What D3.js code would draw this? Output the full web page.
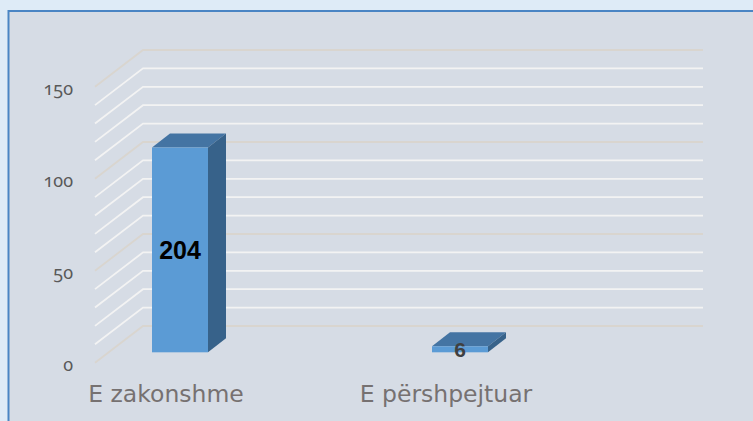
<!DOCTYPE html>
<html><head><meta charset="utf-8">
<script src="https://cdn.jsdelivr.net/npm/d3@7"></script>
<style>html,body{margin:0;padding:0;background:#deebf7;}</style>
</head><body>
<svg id="c" width="753" height="421"></svg>
<script>
const categories = ["E zakonshme", "E përshpejtuar"];
const values = [204, 6];
const tickLabels = [0, 50, 100, 150];

const svg = d3.select("#c");
svg.append("rect").attr("x",0).attr("y",0).attr("width",753).attr("height",421).attr("fill","#deebf7");
svg.append("rect").attr("x",8.5).attr("y",11).attr("width",760).attr("height",420)
  .attr("fill","#d6dce5").attr("stroke","#4a85c4").attr("stroke-width",2);

// geometry
const backLeft = 143, backRight = 703, backBase = 326;
const depth = [48, -36.7];
const y = d3.scaleLinear().domain([0,150]).range([0,276]);
const barY = d3.scaleLinear().domain([0,275]).range([0,276]);
const x = d3.scaleBand().domain(categories).range([40,600]).padding(0);
const barBase = 352.3, barW = x.bandwidth()*0.2, bd = [18,-14];

// gridlines
const grid = y.ticks(15);
svg.append("g").selectAll("path").data(grid).join("path")
  .attr("d", v => { const yb = backBase - y(v); return `M${backLeft-depth[0]},${yb-depth[1]}L${backLeft},${yb}L${backRight},${yb}`; })
  .attr("fill","none")
  .attr("stroke", v => v % 50 === 0 ? "#d9d5cf" : "#f3f3f3")
  .attr("stroke-width",1.8);

// tick labels
svg.append("g").selectAll("text").data(tickLabels).join("text")
  .attr("x",73).attr("y", v => backBase - depth[1] - y(v) + 8)
  .attr("text-anchor","end")
  .style("font-family","'Noto Sans', 'Open Sans', sans-serif")
  .style("font-feature-settings","'onum' 1")
  .style("font-size","18px").attr("fill","#595959")
  .text(d => d);

// bars
const bars = svg.append("g").selectAll("g").data(values).join("g");
bars.each(function(v,i){
  const g = d3.select(this);
  const x0 = x(categories[i]) + x.bandwidth()/2 - barW/2, x1 = x0 + barW;
  const yt = barBase - barY(v), yb = barBase;
  g.append("path").attr("d",`M${x0},${yt}L${x0+bd[0]},${yt+bd[1]}L${x1+bd[0]},${yt+bd[1]}L${x1},${yt}Z`).attr("fill","#4474a3");
  g.append("path").attr("d",`M${x1},${yt}L${x1+bd[0]},${yt+bd[1]}L${x1+bd[0]},${yb+bd[1]}L${x1},${yb}Z`).attr("fill","#37628a");
  g.append("rect").attr("x",x0).attr("y",yt).attr("width",barW).attr("height",yb-yt).attr("fill","#5b9bd5");
});

// value labels
svg.append("g").selectAll("text").data(values).join("text")
  .attr("x",(d,i)=> x(categories[i]) + x.bandwidth()/2)
  .attr("y",(d,i)=> i===0 ? (barBase*2 - barY(d))/2 + 9.5 : barBase + 4.5)
  .attr("text-anchor","middle")
  .style("font-family","'Liberation Sans', Arial, sans-serif").style("font-weight","bold")
  .style("font-size",(d,i)=> i===0 ? "25px" : "21px")
  .attr("fill",(d,i)=> i===0 ? "#000000" : "#404040")
  .text(d=>d);

// category labels
svg.append("g").selectAll("text").data(categories).join("text")
  .attr("x", d => x(d) + x.bandwidth()/2 - 14).attr("y",402)
  .attr("text-anchor","middle")
  .style("font-family","'DejaVu Sans', Verdana, sans-serif").style("font-size","23.5px")
  .attr("fill","#767171").text(d=>d);
</script>
</body></html>
